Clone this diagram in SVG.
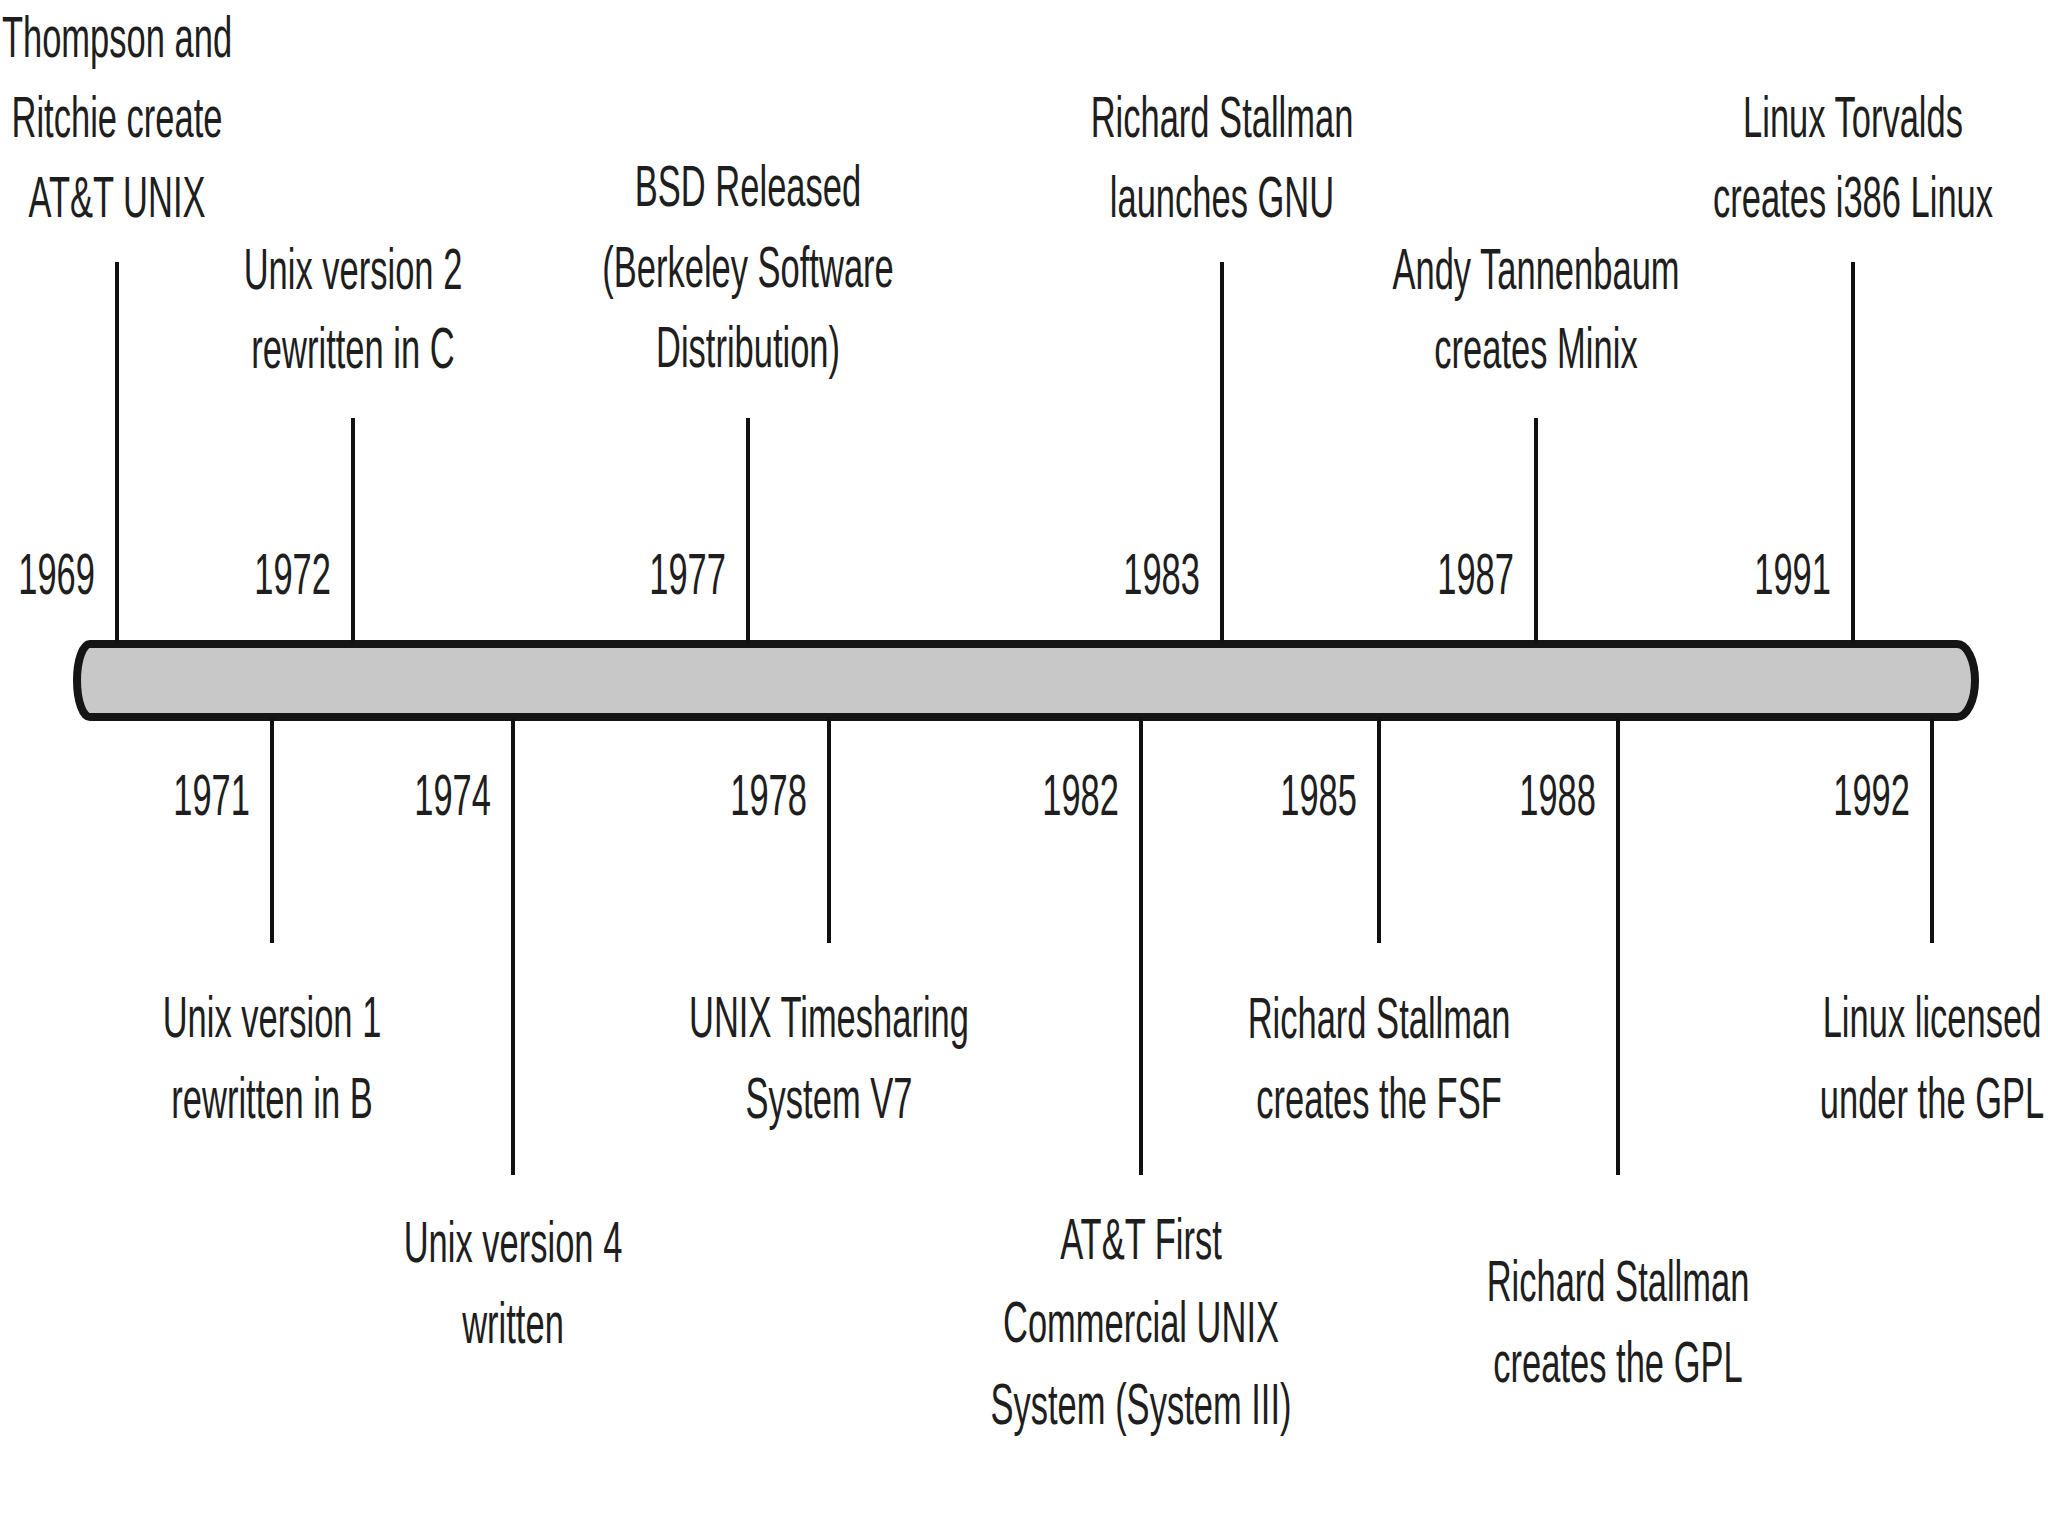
<svg xmlns="http://www.w3.org/2000/svg" width="2048" height="1536" viewBox="0 0 2048 1536">
<style>
text{font-family:"Liberation Sans",Arial,sans-serif;font-size:58px;fill:#1e1e1e}
.c text{text-anchor:middle}
.y{text-anchor:end}
.tick{stroke:#111;stroke-width:4;fill:none}
.bar{fill:#c8c8c8;stroke:#151515;stroke-width:8;stroke-linejoin:round}
</style>
<rect width="2048" height="1536" fill="#fff"/>
<g id="timeline-bar">
<path class="bar" d="M 90 644 L 1957 644 A 18 36.5 0 0 1 1957 717 L 90 717 A 13 36.5 0 0 1 90 644 Z"/>
</g>
<g id="connectors">
<line class="tick" x1="117" y1="262" x2="117" y2="644"/>
<line class="tick" x1="353" y1="418" x2="353" y2="644"/>
<line class="tick" x1="748" y1="418" x2="748" y2="644"/>
<line class="tick" x1="1222" y1="262" x2="1222" y2="644"/>
<line class="tick" x1="1536" y1="418" x2="1536" y2="644"/>
<line class="tick" x1="1853" y1="262" x2="1853" y2="644"/>
<line class="tick" x1="272" y1="718" x2="272" y2="943"/>
<line class="tick" x1="513" y1="718" x2="513" y2="1175"/>
<line class="tick" x1="829" y1="718" x2="829" y2="943"/>
<line class="tick" x1="1141" y1="718" x2="1141" y2="1175"/>
<line class="tick" x1="1379" y1="718" x2="1379" y2="943"/>
<line class="tick" x1="1618" y1="718" x2="1618" y2="1175"/>
<line class="tick" x1="1932" y1="718" x2="1932" y2="943"/>
</g>
<g id="n1969">
<g transform="translate(95,0) scale(0.595,1)"><text class="y" x="0" y="594">1969</text></g>
<g class="c" transform="translate(117,0) scale(0.595,1)"><text x="0" y="57">Thompson and</text><text x="0" y="137">Ritchie create</text><text x="0" y="217">AT&amp;T UNIX</text></g>
</g>
<g id="n1972">
<g transform="translate(331,0) scale(0.595,1)"><text class="y" x="0" y="594">1972</text></g>
<g class="c" transform="translate(353,0) scale(0.595,1)"><text x="0" y="289">Unix version 2</text><text x="0" y="368">rewritten in C</text></g>
</g>
<g id="n1977">
<g transform="translate(726,0) scale(0.595,1)"><text class="y" x="0" y="594">1977</text></g>
<g class="c" transform="translate(748,0) scale(0.595,1)"><text x="0" y="206">BSD Released</text><text x="0" y="287">(Berkeley Software</text><text x="0" y="367">Distribution)</text></g>
</g>
<g id="n1983">
<g transform="translate(1200,0) scale(0.595,1)"><text class="y" x="0" y="594">1983</text></g>
<g class="c" transform="translate(1222,0) scale(0.595,1)"><text x="0" y="137">Richard Stallman</text><text x="0" y="217">launches GNU</text></g>
</g>
<g id="n1987">
<g transform="translate(1514,0) scale(0.595,1)"><text class="y" x="0" y="594">1987</text></g>
<g class="c" transform="translate(1536,0) scale(0.595,1)"><text x="0" y="289">Andy Tannenbaum</text><text x="0" y="368">creates Minix</text></g>
</g>
<g id="n1991">
<g transform="translate(1831,0) scale(0.595,1)"><text class="y" x="0" y="594">1991</text></g>
<g class="c" transform="translate(1853,0) scale(0.595,1)"><text x="0" y="137">Linux Torvalds</text><text x="0" y="217">creates i386 Linux</text></g>
</g>
<g id="n1971">
<g transform="translate(250,0) scale(0.595,1)"><text class="y" x="0" y="815">1971</text></g>
<g class="c" transform="translate(272,0) scale(0.595,1)"><text x="0" y="1037">Unix version 1</text><text x="0" y="1118">rewritten in B</text></g>
</g>
<g id="n1974">
<g transform="translate(491,0) scale(0.595,1)"><text class="y" x="0" y="815">1974</text></g>
<g class="c" transform="translate(513,0) scale(0.595,1)"><text x="0" y="1262">Unix version 4</text><text x="0" y="1343">written</text></g>
</g>
<g id="n1978">
<g transform="translate(807,0) scale(0.595,1)"><text class="y" x="0" y="815">1978</text></g>
<g class="c" transform="translate(829,0) scale(0.595,1)"><text x="0" y="1037">UNIX Timesharing</text><text x="0" y="1118">System V7</text></g>
</g>
<g id="n1982">
<g transform="translate(1119,0) scale(0.595,1)"><text class="y" x="0" y="815">1982</text></g>
<g class="c" transform="translate(1141,0) scale(0.595,1)"><text x="0" y="1259">AT&amp;T First</text><text x="0" y="1342">Commercial UNIX</text><text x="0" y="1424">System (System III)</text></g>
</g>
<g id="n1985">
<g transform="translate(1357,0) scale(0.595,1)"><text class="y" x="0" y="815">1985</text></g>
<g class="c" transform="translate(1379,0) scale(0.595,1)"><text x="0" y="1038">Richard Stallman</text><text x="0" y="1118">creates the FSF</text></g>
</g>
<g id="n1988">
<g transform="translate(1596,0) scale(0.595,1)"><text class="y" x="0" y="815">1988</text></g>
<g class="c" transform="translate(1618,0) scale(0.595,1)"><text x="0" y="1301">Richard Stallman</text><text x="0" y="1382">creates the GPL</text></g>
</g>
<g id="n1992">
<g transform="translate(1910,0) scale(0.595,1)"><text class="y" x="0" y="815">1992</text></g>
<g class="c" transform="translate(1932,0) scale(0.595,1)"><text x="0" y="1037">Linux licensed</text><text x="0" y="1118">under the GPL</text></g>
</g>
</svg>
